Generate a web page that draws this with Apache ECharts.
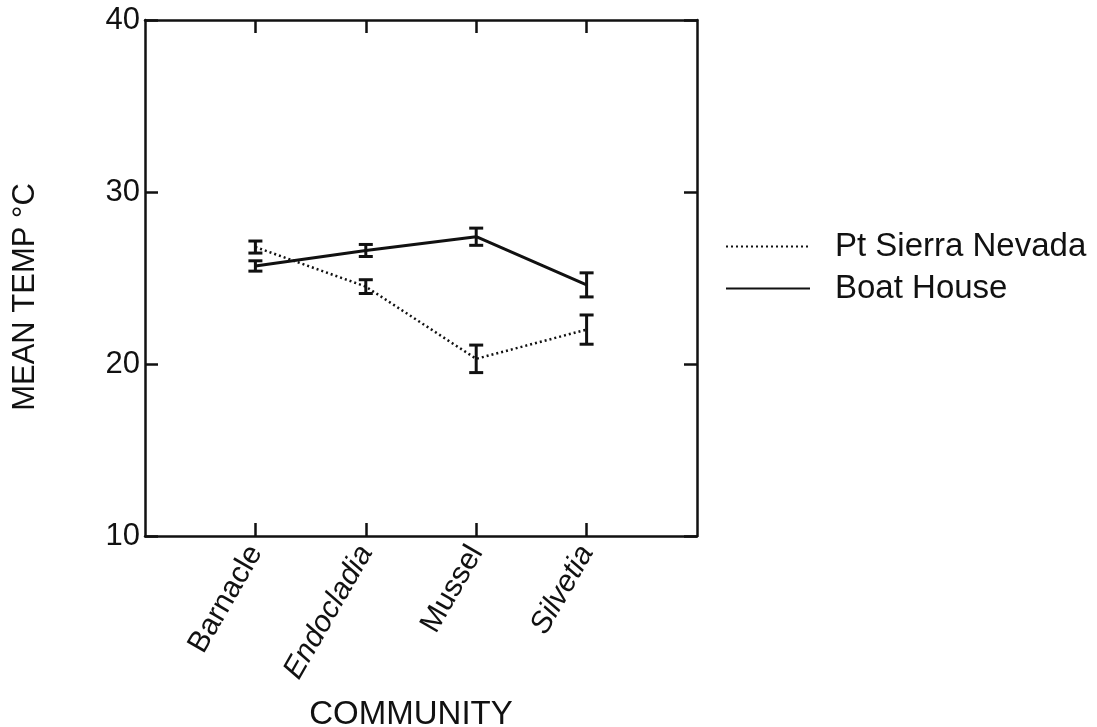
<!DOCTYPE html>
<html>
<head>
<meta charset="utf-8">
<script src="https://cdn.jsdelivr.net/npm/echarts@6/dist/echarts.min.js"></script>
<style>
html, body { margin: 0; padding: 0; background: #fff; }
#chart { width: 1097px; height: 727px; }
</style>
</head>
<body>
<div id="chart"></div>
<script>
// categories, padded with blanks so the points sit one step in from the frame
var communities = ['', 'Barnacle', 'Endocladia', 'Mussel', 'Silvetia', ''];
var italicNames = ['Endocladia', 'Silvetia'];

var boatHouse = [null, 25.7, 26.6, 27.4, 24.6, null];
var boatHouseErr = [null, 0.3, 0.35, 0.5, 0.7, null];
var ptSierra = [null, 26.8, 24.5, 20.3, 22.0, null];
var ptSierraErr = [null, 0.35, 0.4, 0.8, 0.85, null];

var yTicks = [10, 20, 30, 40];

var ink = '#111';
var font = 'Liberation Sans, Arial, sans-serif';

function errorData(vals, errs) {
    var out = [];
    for (var i = 0; i < vals.length; i++) {
        if (vals[i] == null) continue;
        out.push([i, vals[i] - errs[i], vals[i] + errs[i]]);
    }
    return out;
}

function renderErr(params, api) {
    var lo = api.coord([api.value(0), api.value(1)]);
    var hi = api.coord([api.value(0), api.value(2)]);
    var w = 7;
    var st = { stroke: ink, lineWidth: 3 };
    return {
        type: 'group',
        children: [
            { type: 'line', shape: { x1: lo[0], y1: lo[1], x2: hi[0], y2: hi[1] }, style: st },
            { type: 'line', shape: { x1: lo[0] - w, y1: lo[1], x2: lo[0] + w, y2: lo[1] }, style: st },
            { type: 'line', shape: { x1: hi[0] - w, y1: hi[1], x2: hi[0] + w, y2: hi[1] }, style: st }
        ]
    };
}

var axisLine = { show: true, lineStyle: { color: ink, width: 2.5 } };
var axisTick = { show: true, inside: true, length: 13, lineStyle: { color: ink, width: 2.5 } };
var catTick = { show: true, inside: true, length: 13, lineStyle: { color: ink, width: 2.5 },
    interval: function (i) { return i > 0 && i < communities.length - 1; } };

var option = {
    backgroundColor: '#fff',
    animation: false,
    grid: { left: 145, right: 400, top: 20, bottom: 191, containLabel: false, outerBoundsMode: 'none' },
    legend: {
        orient: 'vertical',
        left: 720,
        top: 225,
        itemWidth: 84,
        itemHeight: 14,
        itemGap: 9,
        itemStyle: { opacity: 0 },
        textStyle: { fontFamily: font, fontSize: 33, color: ink, padding: [0, 0, 0, 20] },
        data: ['Pt Sierra Nevada', 'Boat House']
    },
    xAxis: [{
        type: 'category',
        data: communities,
        boundaryGap: false,
        axisLine: axisLine,
        axisTick: catTick,
        axisLabel: {
            rotate: 60,
            margin: 12,
            fontFamily: font,
            fontSize: 30,
            color: ink,
            interval: 0,
            formatter: function (v) {
                if (italicNames.indexOf(v) >= 0) return '{i|' + v + '}';
                return v;
            },
            rich: { i: { fontStyle: 'italic', fontFamily: font, fontSize: 30, color: ink } }
        },
        name: 'COMMUNITY',
        nameLocation: 'middle',
        nameGap: 162,
        nameTextStyle: { fontFamily: font, fontSize: 33, color: ink, padding: [0, 20, 0, 0] },
        splitLine: { show: false }
    }, {
        type: 'category',
        data: communities,
        boundaryGap: false,
        position: 'top',
        axisLine: axisLine,
        axisTick: catTick,
        axisLabel: { show: false },
        splitLine: { show: false }
    }],
    yAxis: [{
        type: 'value',
        min: yTicks[0],
        max: yTicks[yTicks.length - 1],
        interval: 10,
        axisLine: axisLine,
        axisTick: axisTick,
        axisLabel: { fontFamily: font, fontSize: 31, color: ink, margin: 5 },
        splitLine: { show: false },
        name: 'MEAN TEMP °C',
        nameLocation: 'middle',
        nameGap: 104,
        nameTextStyle: { fontFamily: font, fontSize: 31, color: ink, padding: [0, 38, 0, 0] }
    }, {
        type: 'value',
        min: yTicks[0],
        max: yTicks[yTicks.length - 1],
        interval: 10,
        position: 'right',
        axisLine: axisLine,
        axisTick: axisTick,
        axisLabel: { show: false },
        splitLine: { show: false }
    }],
    series: [{
        name: 'Pt Sierra Nevada',
        type: 'line',
        data: ptSierra,
        symbol: 'none',
        lineStyle: { color: ink, width: 2.5, type: [2, 3] },
        itemStyle: { color: ink },
        z: 3
    }, {
        name: 'Boat House',
        type: 'line',
        data: boatHouse,
        symbol: 'none',
        lineStyle: { color: ink, width: 3 },
        itemStyle: { color: ink },
        z: 3
    }, {
        type: 'custom',
        renderItem: renderErr,
        data: errorData(ptSierra, ptSierraErr),
        encode: { x: 0, y: [1, 2] },
        z: 4
    }, {
        type: 'custom',
        renderItem: renderErr,
        data: errorData(boatHouse, boatHouseErr),
        encode: { x: 0, y: [1, 2] },
        z: 4
    }]
};

var myChart = echarts.init(document.getElementById('chart'));
myChart.setOption(option);
</script>
</body>
</html>
